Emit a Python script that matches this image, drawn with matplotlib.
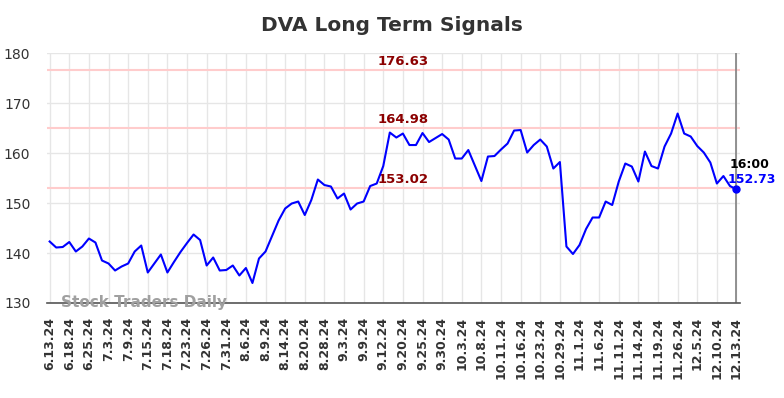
import matplotlib
matplotlib.use("Agg")
import matplotlib.pyplot as plt

title = "DVA Long Term Signals"
tick_labels = ["6.13.24", "6.18.24", "6.25.24", "7.3.24", "7.9.24", "7.15.24", "7.18.24",
               "7.23.24", "7.26.24", "7.31.24", "8.6.24", "8.9.24", "8.14.24", "8.20.24",
               "8.28.24", "9.3.24", "9.9.24", "9.12.24", "9.20.24", "9.25.24", "9.30.24",
               "10.3.24", "10.8.24", "10.11.24", "10.16.24", "10.23.24", "10.29.24",
               "11.1.24", "11.6.24", "11.11.24", "11.14.24", "11.19.24", "11.26.24",
               "12.5.24", "12.10.24", "12.13.24"]
prices = [142.3, 141.1, 141.2, 142.2, 140.3, 141.3, 142.9, 142.1, 138.5, 137.9,
          136.5, 137.3, 137.9, 140.3, 141.5, 136.1, 137.9, 139.7, 136.1, 138.2,
          140.2, 142.0, 143.7, 142.6, 137.5, 139.1, 136.5, 136.6, 137.5, 135.5,
          137.0, 134.0, 138.9, 140.3, 143.4, 146.5, 148.9, 149.9, 150.3, 147.6,
          150.6, 154.7, 153.6, 153.3, 150.9, 151.9, 148.7, 149.9, 150.3, 153.4,
          153.9, 157.4, 164.1, 163.1, 163.9, 161.6, 161.6, 164.0, 162.2, 163.0,
          163.8, 162.7, 158.9, 158.9, 160.6, 157.5, 154.4, 159.3, 159.4, 160.7,
          161.9, 164.5, 164.6, 160.1, 161.6, 162.7, 161.3, 156.9, 158.2, 141.3,
          139.8, 141.6, 144.8, 147.1, 147.1, 150.3, 149.6, 154.3, 157.9, 157.3,
          154.3, 160.3, 157.4, 156.9, 161.3, 163.9, 167.9, 163.9, 163.3, 161.4,
          160.1, 158.1, 153.9, 155.4, 153.4, 152.73]
levels = [176.63, 164.98, 153.02]
last_time = "16:00"
watermark = "Stock Traders Daily"

fig = plt.figure(figsize=(7.84, 3.98), dpi=100)
ax = fig.add_axes([0.06, 0.2387, 0.884, 0.628])

x = list(range(len(prices)))
ax.set_xlim(-0.4, len(prices) - 1 + 0.55)
ax.set_ylim(130, 180)

ax.grid(True, color="#e6e6e6", linewidth=1)
ax.set_axisbelow(True)
for lv in levels:
    ax.axhline(lv, color="#ffcccc", linewidth=1.5, zorder=1)
    ax.text(54, lv + 0.35, f"{lv:.2f}", color="#8b0000", fontsize=9.5, fontweight="bold",
            ha="center", va="bottom", zorder=3)

ax.plot(x, prices, color="#0000ff", linewidth=1.5, zorder=4)
ax.plot([x[-1]], [prices[-1]], marker="o", markersize=5, color="#0000ff", zorder=5)
ax.axvline(x[-1], color="#808080", linewidth=1.2, zorder=2)

ax.annotate(last_time, xy=(x[-1], prices[-1]), xytext=(-7, 18), textcoords="offset pixels",
            color="black", fontsize=9, fontweight="bold", ha="left", va="bottom", zorder=6)
ax.annotate(f"{prices[-1]:.2f}", xy=(x[-1], prices[-1]), xytext=(-9, 3),
            textcoords="offset pixels", color="#0000ff", fontsize=9, fontweight="bold",
            ha="left", va="bottom", zorder=6)

ax.text(0.02, 0.0, watermark, transform=ax.transAxes, color="#a0a0a0", fontsize=11,
        fontweight="bold", ha="left", va="center", zorder=6)

ax.set_xticks(x[::3])
ax.set_xticklabels(tick_labels, rotation=90, fontsize=9, fontweight="bold", color="#333333")
ax.set_yticks([130, 140, 150, 160, 170, 180])
ax.tick_params(axis="x", length=0, pad=10)
ax.tick_params(axis="y", length=0, pad=12, labelsize=10, labelcolor="#333333")

for s in ["left", "top", "right"]:
    ax.spines[s].set_visible(False)
ax.spines["bottom"].set_color("#555555")
ax.spines["bottom"].set_linewidth(1.2)

fig.suptitle(title, x=0.5, y=0.96, fontsize=14.5, fontweight="bold", color="#333333")

fig.savefig("out.png", dpi=100)
